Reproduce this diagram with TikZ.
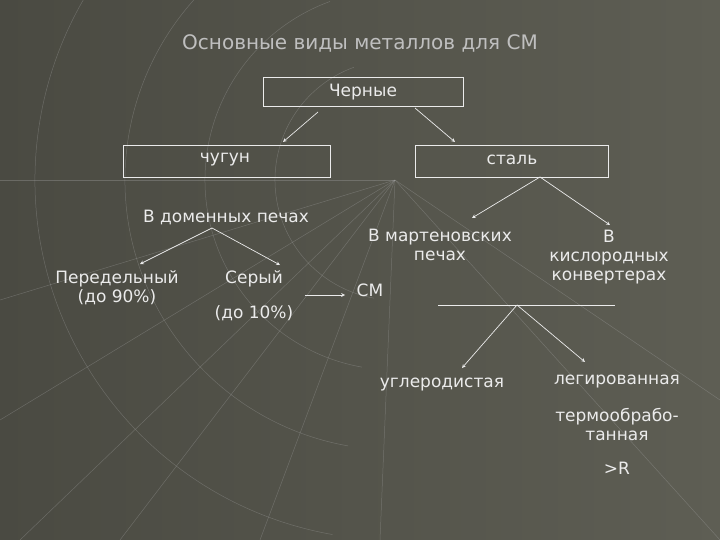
\documentclass[tikz,border=0pt]{standalone}
\usepackage{fontspec}
\setmainfont{DejaVu Sans}
\definecolor{bgl}{HTML}{4A4A42}
\definecolor{bgr}{HTML}{5E5E54}
\begin{document}
\begin{tikzpicture}[x=1pt,y=-1pt,
  lbl/.style={text=white!92!black,font=\fontsize{17}{19}\selectfont,align=center,inner sep=1pt},
  box/.style={draw=white!92!black,line width=0.7pt},
  arr/.style={draw=white!92!black,line width=0.7pt,-stealth},
  web/.style={draw=gray!70!white,line width=0.5pt,opacity=0.35}]
\fill[left color=bgl, right color=bgr] (0,0) rectangle (720,540);
\useasboundingbox (0,0) rectangle (720,540);
% faint web
\coordinate (c) at (395,180);
\foreach \a/\b in {20/540,120/540,260/540,380/540,0/420,0/300,0/180,720/540,720/400}
  \draw[web] (c) -- (\a,\b);
\foreach \r in {120,190,270,360}
  \draw[web] (395,180) ++(100:\r) arc[start angle=100,end angle=250,radius=\r];
% title
\node[lbl,text=white!75!black,font=\fontsize{20}{24}\selectfont] (title) at (360,43) {Основные виды металлов для СМ};
\node[box,minimum width=200pt,minimum height=29pt,lbl] (cher) at (363,92) {Черные};
\node[box,minimum width=207pt,minimum height=32pt] (chugb) at (226.5,161) {};
\node[lbl] (chug) at (225,160) {чугун};
\node[box,minimum width=193pt,minimum height=32pt] (stb) at (511.5,161) {};
\node[lbl] (st) at (512,160) {сталь};
\coordinate (a1) at (318,112); \coordinate (a2) at (283,142);
\coordinate (a3) at (415,108); \coordinate (a4) at (455,142);
\draw[arr] (a1) -- (a2); \draw[arr] (a3) -- (a4);
\node[lbl] (dom) at (226,217) {В доменных печах};
\coordinate (d0) at (212,228);
\coordinate (d1) at (140,264); \coordinate (d2) at (280,265);
\draw[arr] (d0) -- (d1); \draw[arr] (d0) -- (d2);
\node[lbl] (per) at (117,288) {Передельный\\(до 90\%)};
\node[lbl] (ser) at (254,279) {Серый};
\node[lbl] (ser2) at (254,313) {(до 10\%)};
\coordinate (s1) at (305,295); \coordinate (s2) at (345,295);
\draw[arr] (s1) -- (s2);
\node[lbl] (sm) at (370,290) {СМ};
\coordinate (t0) at (540,177); \coordinate (t1) at (472,218); \coordinate (t2) at (610,225);
\draw[arr] (t0) -- (t1); \draw[arr] (t0) -- (t2);
\node[lbl] (mart) at (440,245) {В мартеновских\\печах};
\node[lbl] (kisl) at (609,257) {В\\кислородных\\конвертерах};
\coordinate (h1) at (438,305); \coordinate (h2) at (615,305); \coordinate (h0) at (517,305);
\draw[box] (h1) -- (h2);
\coordinate (u1) at (462,368); \coordinate (u2) at (585,362);
\draw[arr] (h0) -- (u1); \draw[arr] (h0) -- (u2);
\node[lbl] (ugl) at (442,385) {углеродистая};
\node[lbl] (leg) at (617,382) {легированная};
\node[lbl] (term) at (617,425) {термообрабо-\\танная};
\node[lbl] (r) at (617,468) {>R};
\end{tikzpicture}
\end{document}
